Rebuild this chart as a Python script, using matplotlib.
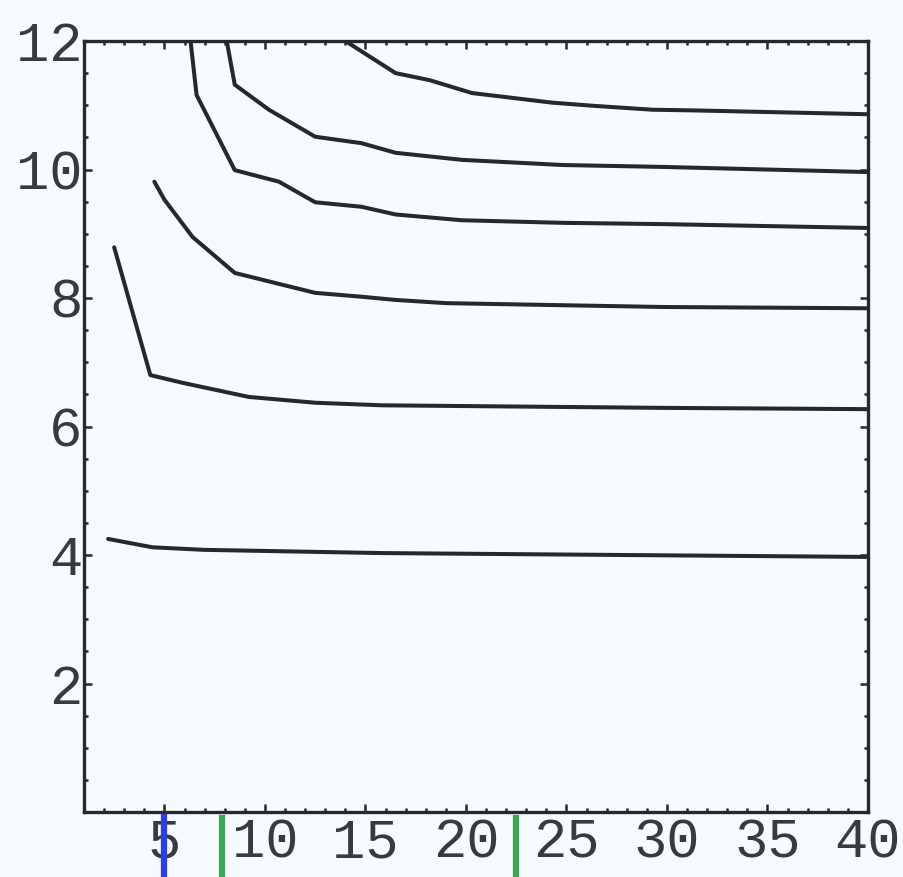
import matplotlib
matplotlib.use('Agg')
import matplotlib.pyplot as plt
import matplotlib.transforms as mtransforms
from matplotlib.ticker import MultipleLocator

# contour levels, traced as polylines (x, y)
xA = [14.0, 16.5, 18.2, 20.3, 24.3, 26.4, 29.3, 31.3, 40.0]
yA = [12.0, 11.50, 11.39, 11.19, 11.04, 10.99, 10.93, 10.92, 10.86]

xB = [8.1, 8.5, 10.2, 12.5, 14.8, 16.5, 19.8, 24.8, 29.8, 40.0]
yB = [12.0, 11.32, 10.93, 10.51, 10.41, 10.26, 10.15, 10.07, 10.04, 9.96]

xC = [6.3, 6.6, 8.5, 10.7, 12.5, 14.8, 16.5, 19.8, 24.8, 29.8, 40.0]
yC = [12.0, 11.16, 9.99, 9.81, 9.49, 9.42, 9.30, 9.21, 9.17, 9.15, 9.09]

xD = [4.5, 5.0, 6.4, 8.5, 12.5, 14.8, 16.5, 19.0, 29.8, 40.0]
yD = [9.81, 9.53, 8.95, 8.39, 8.08, 8.02, 7.97, 7.92, 7.86, 7.84]

xE = [2.5, 4.3, 5.9, 9.2, 12.5, 15.8, 29.8, 40.0]
yE = [8.79, 6.80, 6.68, 6.46, 6.37, 6.33, 6.29, 6.27]

xF = [2.2, 4.4, 7.0, 15.8, 27.8, 40.0]
yF = [4.25, 4.12, 4.08, 4.03, 4.00, 3.97]

curves = [(xA, yA), (xB, yB), (xC, yC), (xD, yD), (xE, yE), (xF, yF)]

# marks under the x axis
blue_x = [5]
green_x = [7.85, 22.5]

xticks = [5, 10, 15, 20, 25, 30, 35, 40]
yticks = [2, 4, 6, 8, 10, 12]

bg = '#f5fbfe'
ink = '#26282e'

fig = plt.figure(figsize=(9.04, 8.77), dpi=100, facecolor=bg)
ax = fig.add_axes([84/904, (877-812)/877, (868-84)/904, (812-41)/877])
ax.set_facecolor(bg)

for x, y in curves:
    ax.plot(x, y, color=ink, lw=2.9, solid_joinstyle='round', solid_capstyle='round')

ax.set_xlim(1, 40)
ax.set_ylim(0, 12)
ax.set_xticks(xticks)
ax.set_yticks(yticks)
ax.xaxis.set_minor_locator(MultipleLocator(1))
ax.yaxis.set_minor_locator(MultipleLocator(0.5))

for s in ax.spines.values():
    s.set_color(ink)
    s.set_linewidth(2.4)

ax.tick_params(which='both', direction='in', top=True, right=True, color=ink, width=1.8)
ax.tick_params(which='major', length=6, pad=4, labelsize=40, labelcolor='#383a42')
ax.tick_params(which='minor', length=3)
ax.tick_params(axis='y', which='major', pad=1)
for lab in ax.get_xticklabels() + ax.get_yticklabels():
    lab.set_fontfamily('Liberation Mono')

trans = mtransforms.blended_transform_factory(ax.transData, ax.transAxes)
for xv in blue_x:
    ax.plot([xv, xv], [-0.006, -0.1], color='#2a40e6', lw=4.5, transform=trans,
            clip_on=False, zorder=5)
for xv in green_x:
    ax.plot([xv, xv], [-0.008, -0.1], color='#3aa856', lw=4.5, transform=trans,
            clip_on=False, zorder=5)

fig.savefig('out.png', dpi=100, facecolor=bg)
